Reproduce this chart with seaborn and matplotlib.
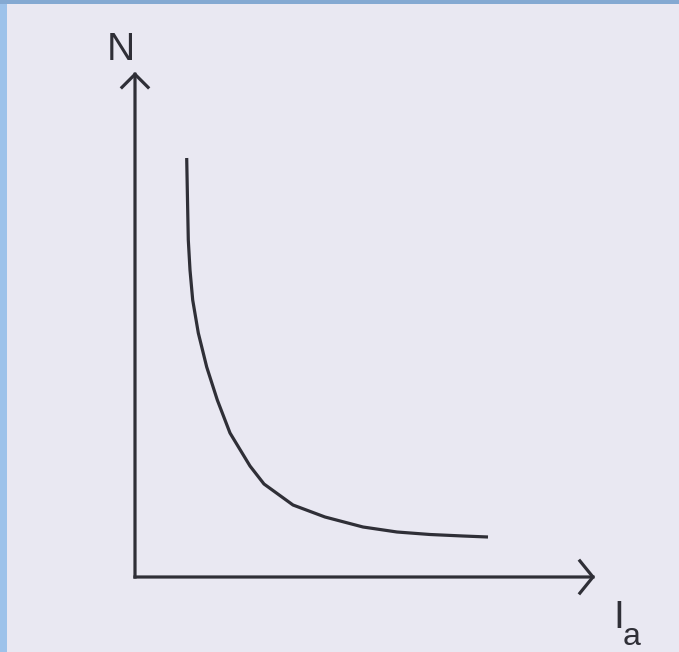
"""
Caractéristique vitesse / courant d'induit (moteur série) : N = f(Ia).
"""
import matplotlib

matplotlib.use("Agg")
import matplotlib.pyplot as plt
from matplotlib.patches import Rectangle
import seaborn as sns

ia = [0.517, 0.525, 0.533, 0.55, 0.577, 0.633, 0.717, 0.823, 0.95, 1.15,
      1.29, 1.58, 1.90, 2.28, 2.62, 2.95, 3.28, 3.53]
n = [4.19, 3.77, 3.37, 3.07, 2.77, 2.44, 2.10, 1.77, 1.44, 1.11,
     0.93, 0.72, 0.60, 0.50, 0.45, 0.425, 0.41, 0.40]
x_end = 4.60   # bout de la flèche Ia
y_end = 5.05   # bout de la flèche N

W, H = 679, 652
PAPER = "#e9e8f2"
INK = "#2f2f37"

sns.set_theme(style="white")
plt.rcParams["font.family"] = ["Liberation Sans", "DejaVu Sans"]

fig = plt.figure(figsize=(W / 100, H / 100), dpi=100)
fig.patch.set_facecolor(PAPER)

# bordure bleue (gauche + haut)
fig.patches.append(Rectangle((0, 0), 7 / W, 1, transform=fig.transFigure,
                             facecolor="#9dc2ea", edgecolor="none", zorder=0))
fig.patches.append(Rectangle((0, 1 - 4 / H), 1, 4 / H, transform=fig.transFigure,
                             facecolor="#84a9d2", edgecolor="none", zorder=0))

ox, oy = 135, 577
ax = fig.add_axes([ox / W, (H - oy) / H, (W - ox) / W, oy / H])
ax.set_facecolor("none")
ax.set_xlim(0, (W - ox) / 100)
ax.set_ylim(0, oy / 100)
ax.set_axis_off()

sns.lineplot(x=ia, y=n, ax=ax, color=INK, lw=2.3, estimator=None,
             sort=False, solid_capstyle="butt", solid_joinstyle="round")

# axes fléchés
arrow_kw = dict(color=INK, lw=2.3, mutation_scale=20, shrinkA=0, shrinkB=0,
                joinstyle="miter", capstyle="projecting")
ax.annotate("", xy=(0, y_end), xytext=(0, 0),
            arrowprops=dict(arrowstyle="->,head_length=0.47,head_width=0.47",
                            **arrow_kw))
ax.annotate("", xy=(x_end, 0), xytext=(0, 0),
            arrowprops=dict(arrowstyle="->,head_length=0.47,head_width=0.58",
                            **arrow_kw))

# étiquettes
fig.text(120.5 / W, 1 - 60 / H, "N", ha="center", va="baseline",
         fontsize=28, color=INK)
fig.text(613 / W, 1 - 628 / H, "I", ha="left", va="baseline",
         fontsize=28, color=INK)
fig.text(623 / W, 1 - 645 / H, "a", ha="left", va="baseline",
         fontsize=23, color=INK)

fig.savefig("out.png", dpi=100, facecolor=fig.get_facecolor())
